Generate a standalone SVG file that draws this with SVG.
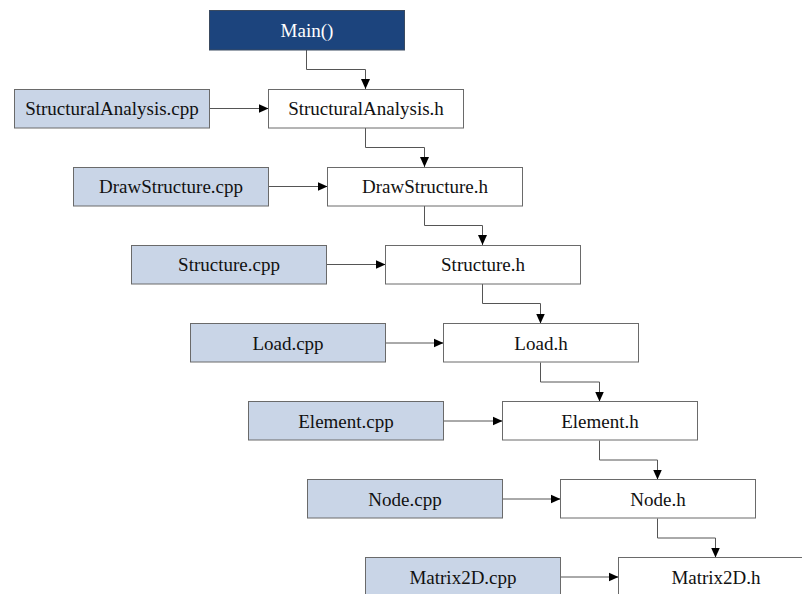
<svg xmlns="http://www.w3.org/2000/svg" width="802" height="594" viewBox="0 0 802 594">
  <defs>
    <marker id="arrow" viewBox="0 0 10 10" refX="10" refY="5" markerWidth="10" markerHeight="10" markerUnits="userSpaceOnUse" orient="auto">
      <path d="M0,0.5 L10,5 L0,9.5 Z" fill="#000"/>
    </marker>
    <style>
      .src rect { fill: #c9d5e7; stroke: #6a6a6a; stroke-width: 1; }
      .hdr rect { fill: #ffffff; stroke: #6a6a6a; stroke-width: 1; }
      .main rect { fill: #1c447d; stroke: #3a4a60; stroke-width: 1; }
      text { font-family: "Liberation Serif", "Times New Roman", serif; font-size: 19px; text-anchor: middle; fill: #111; }
      .main text { fill: #ffffff; }
      .conn path { fill: none; stroke: #555; stroke-width: 1; marker-end: url(#arrow); }
    </style>
  </defs>
  <rect width="802" height="594" fill="#ffffff"/>

  <!-- connectors -->
  <g id="connectors" class="conn">
    <path d="M306.5,50 V69.5 H365.5 V89"/>
    <path d="M365.5,128 V147.5 H424.5 V167"/>
    <path d="M424.5,206 V225.5 H482.5 V245"/>
    <path d="M482.5,284 V303.5 H540.5 V323.5"/>
    <path d="M540.5,362.5 V382 H599.5 V401.5"/>
    <path d="M599.5,440.5 V460 H657.5 V479.5"/>
    <path d="M657.5,518.5 V538 H715.5 V557.5"/>
    <path d="M209.5,108.5 H268.5"/>
    <path d="M268.5,186.5 H327.5"/>
    <path d="M326.5,264.5 H385.5"/>
    <path d="M385.5,343 H443.5"/>
    <path d="M443.5,421 H502.5"/>
    <path d="M502.5,499 H560.5"/>
    <path d="M560.5,577 H618.5"/>
  </g>

  <!-- entry point -->
  <g id="main" class="main">
    <rect x="209.5" y="10.5" width="195" height="39.5"/>
    <text x="307" y="36.5">Main()</text>
  </g>

  <!-- source files -->
  <g id="structuralanalysis-cpp" class="src">
    <rect x="14.5" y="89.5" width="195" height="38.5"/>
    <text x="112" y="115">StructuralAnalysis.cpp</text>
  </g>
  <g id="drawstructure-cpp" class="src">
    <rect x="73.5" y="167.5" width="195" height="38.5"/>
    <text x="171" y="193">DrawStructure.cpp</text>
  </g>
  <g id="structure-cpp" class="src">
    <rect x="131.5" y="245.5" width="195" height="38.5"/>
    <text x="229" y="271">Structure.cpp</text>
  </g>
  <g id="load-cpp" class="src">
    <rect x="190.5" y="323.5" width="195" height="38.5"/>
    <text x="288" y="349.5">Load.cpp</text>
  </g>
  <g id="element-cpp" class="src">
    <rect x="248.5" y="401.5" width="195" height="38.5"/>
    <text x="346" y="427.5">Element.cpp</text>
  </g>
  <g id="node-cpp" class="src">
    <rect x="307.5" y="479.5" width="195" height="38.5"/>
    <text x="405" y="505.5">Node.cpp</text>
  </g>
  <g id="matrix2d-cpp" class="src">
    <rect x="365.5" y="557.5" width="195" height="38.5"/>
    <text x="463" y="583.5">Matrix2D.cpp</text>
  </g>

  <!-- header files -->
  <g id="structuralanalysis-h" class="hdr">
    <rect x="268.5" y="89.5" width="195" height="38.5"/>
    <text x="366" y="115">StructuralAnalysis.h</text>
  </g>
  <g id="drawstructure-h" class="hdr">
    <rect x="327.5" y="167.5" width="195" height="38.5"/>
    <text x="425" y="193">DrawStructure.h</text>
  </g>
  <g id="structure-h" class="hdr">
    <rect x="385.5" y="245.5" width="195" height="38.5"/>
    <text x="483" y="271">Structure.h</text>
  </g>
  <g id="load-h" class="hdr">
    <rect x="443.5" y="323.5" width="195" height="38.5"/>
    <text x="541" y="349.5">Load.h</text>
  </g>
  <g id="element-h" class="hdr">
    <rect x="502.5" y="401.5" width="195" height="38.5"/>
    <text x="600" y="427.5">Element.h</text>
  </g>
  <g id="node-h" class="hdr">
    <rect x="560.5" y="479.5" width="195" height="38.5"/>
    <text x="658" y="505.5">Node.h</text>
  </g>
  <g id="matrix2d-h" class="hdr">
    <rect x="618.5" y="557.5" width="195" height="38.5"/>
    <text x="716" y="583.5">Matrix2D.h</text>
  </g>
</svg>
